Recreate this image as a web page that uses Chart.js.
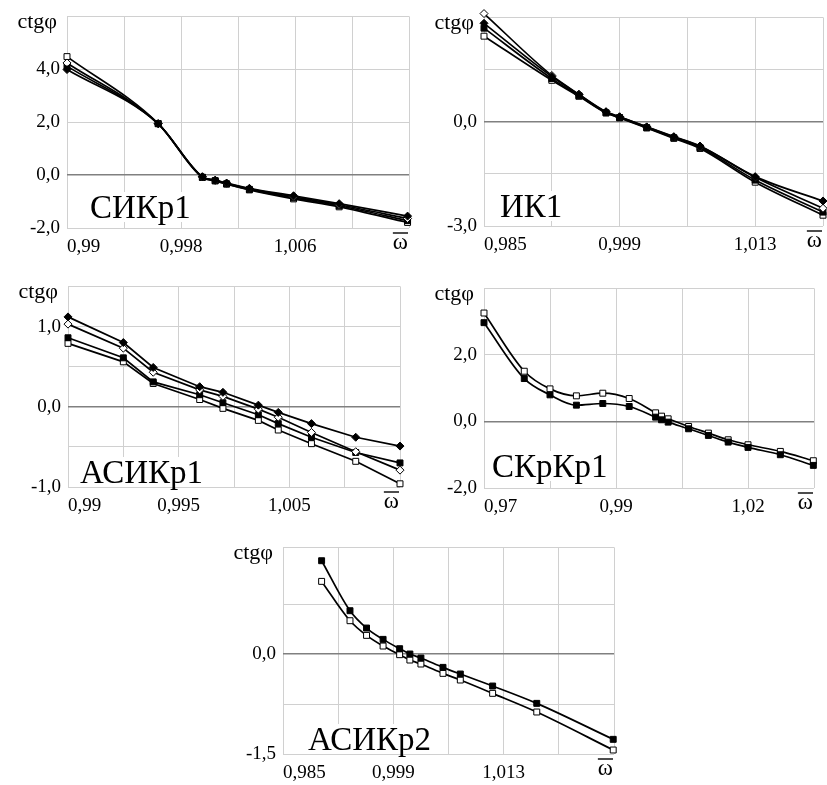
<!DOCTYPE html>
<html>
<head>
<meta charset="utf-8">
<script src="https://cdn.jsdelivr.net/npm/chart.js@4.4.0/dist/chart.umd.min.js"></script>
<style>
  html, body { margin: 0; padding: 0; background: #fff; width: 827px; height: 785px; overflow: hidden; }
  canvas { position: absolute; }
</style>
</head>
<body>
<canvas id="p1"></canvas>
<canvas id="p2"></canvas>
<canvas id="p3"></canvas>
<canvas id="p4"></canvas>
<canvas id="p5"></canvas>
<script>
/*
  Five ctg(phi) vs relative frequency panels
*/

// ---- Panel 1: СИКр1 ----
const p1X = [0.99, 0.9964, 0.9995, 1.0004, 1.0012, 1.0028, 1.0059, 1.0091, 1.0139];
const p1FilledDiamond = [3.99, 1.94, -0.06, -0.19, -0.30, -0.50, -0.78, -1.08, -1.55];
const p1OpenDiamond   = [4.24, 1.95, -0.07, -0.20, -0.31, -0.52, -0.82, -1.12, -1.64];
const p1FilledSquare  = [4.12, 1.94, -0.08, -0.21, -0.33, -0.54, -0.86, -1.16, -1.72];
const p1OpenSquare    = [4.48, 1.95, -0.09, -0.22, -0.34, -0.56, -0.90, -1.20, -1.79];
const p1XTicks = [0.99, 0.994, 0.998, 1.002, 1.006, 1.010, 1.014];
const p1XLabels = ['0,99', '', '0,998', '', '1,006', '', 'ω'];
const p1YTicks = [-2, 0, 2, 4, 6];
const p1YLabels = ['-2,0', '0,0', '2,0', '4,0', ''];

// ---- Panel 2: ИК1 ----
const p2X = [0.985, 0.992, 0.9948, 0.9976, 0.999, 1.0018, 1.0046, 1.0073, 1.013, 1.02];
const p2FilledDiamond = [2.83, 1.30, 0.78, 0.28, 0.14, -0.15, -0.43, -0.70, -1.58, -2.28];
const p2OpenDiamond   = [3.11, 1.33, 0.79, 0.29, 0.14, -0.15, -0.44, -0.71, -1.60, -2.49];
const p2FilledSquare  = [2.69, 1.24, 0.75, 0.26, 0.12, -0.17, -0.46, -0.74, -1.68, -2.60];
const p2OpenSquare    = [2.46, 1.19, 0.73, 0.25, 0.11, -0.18, -0.48, -0.77, -1.74, -2.69];
const p2XTicks = [0.985, 0.992, 0.999, 1.006, 1.013, 1.020];
const p2XLabels = ['0,985', '', '0,999', '', '1,013', 'ω'];
const p2YTicks = [-3, -1.5, 0, 1.5, 3];
const p2YLabels = ['-3,0', '', '0,0', '', ''];

// ---- Panel 3: АСИКр1 ----
const p3X = [0.985, 0.990, 0.9927, 0.9969, 0.999, 1.0022, 1.004, 1.007, 1.011, 1.015];
const p3FilledDiamond = [1.12, 0.80, 0.49, 0.25, 0.18, 0.02, -0.07, -0.21, -0.38, -0.49];
const p3OpenDiamond   = [1.03, 0.73, 0.43, 0.21, 0.13, -0.03, -0.13, -0.32, -0.56, -0.79];
const p3FilledSquare  = [0.86, 0.61, 0.31, 0.15, 0.05, -0.10, -0.21, -0.38, -0.57, -0.70];
const p3OpenSquare    = [0.79, 0.56, 0.29, 0.09, -0.02, -0.17, -0.29, -0.46, -0.68, -0.96];
const p3XTicks = [0.985, 0.990, 0.995, 1.000, 1.005, 1.010, 1.015];
const p3XLabels = ['0,99', '', '0,995', '', '1,005', '', 'ω'];
const p3YTicks = [-1, -0.5, 0, 0.5, 1, 1.5];
const p3YLabels = ['-1,0', '', '0,0', '', '1,0', ''];

// ---- Panel 4: СКрКр1 ----
const p4X = [0.97, 0.9761, 0.98, 0.984, 0.988, 0.992, 0.996, 0.9969, 0.9979, 1.001, 1.004, 1.007, 1.01, 1.0149, 1.0199];
const p4FilledSquare = [2.97, 1.29, 0.80, 0.49, 0.54, 0.45, 0.13, 0.05, -0.02, -0.22, -0.42, -0.62, -0.78, -1.00, -1.32];
const p4OpenSquare   = [3.26, 1.51, 0.98, 0.77, 0.85, 0.69, 0.26, 0.16, 0.08, -0.15, -0.35, -0.55, -0.70, -0.90, -1.18];
const p4XTicks = [0.97, 0.98, 0.99, 1.00, 1.01, 1.02];
const p4XLabels = ['0,97', '', '0,99', '', '1,02', 'ω'];
const p4YTicks = [-2, 0, 2, 4];
const p4YLabels = ['-2,0', '0,0', '2,0', ''];

// ---- Panel 5: АСИКр2 ----
const p5X = [0.9899, 0.9935, 0.9956, 0.9977, 0.9998, 1.0011, 1.0025, 1.0053, 1.0075, 1.0116, 1.0172, 1.0269];
const p5FilledSquare = [1.40, 0.65, 0.39, 0.22, 0.08, 0.00, -0.06, -0.20, -0.30, -0.48, -0.74, -1.28];
const p5OpenSquare   = [1.09, 0.50, 0.28, 0.12, -0.01, -0.09, -0.15, -0.29, -0.39, -0.59, -0.87, -1.44];
const p5XTicks = [0.985, 0.992, 0.999, 1.006, 1.013, 1.020, 1.027];
const p5XLabels = ['0,985', '', '0,999', '', '1,013', '', 'ω'];
const p5YTicks = [-1.5, -0.75, 0, 0.75, 1.6];
const p5YLabels = ['-1,5', '', '0,0', '', ''];

const SERIF = '"Liberation Serif", "Times New Roman", serif';
const AXIS_W = 67, PAD_TOP = 15, PAD_RIGHT = 20, AXIS_H = 40;

// marker look per series kind
const MARKERS = {
  filledDiamond: { pointStyle: 'rectRot', pointBackgroundColor: '#000', pointRadius: 4 },
  openDiamond:   { pointStyle: 'rectRot', pointBackgroundColor: '#fff', pointRadius: 4 },
  filledSquare:  { pointStyle: 'rect',    pointBackgroundColor: '#000', pointRadius: 4.2 },
  openSquare:    { pointStyle: 'rect',    pointBackgroundColor: '#fff', pointRadius: 4.2 }
};

// draws "ctgφ", the overlined omega at the axis end and the panel name
const panelText = {
  id: 'panelText',
  afterDraw(chart, args, opts) {
    const { ctx, chartArea: a } = chart;
    ctx.save();
    ctx.fillStyle = '#000';
    ctx.font = '22px ' + SERIF;
    ctx.textAlign = 'right';
    ctx.textBaseline = 'alphabetic';
    ctx.fillText('ctgφ', a.left - 10, a.top + 12);

    // omega with a bar over it, right-aligned to the last grid line
    ctx.font = '23px ' + SERIF;
    const ow = ctx.measureText(opts.omega).width;
    const ox = a.right - 1;
    ctx.fillText(opts.omega, ox, a.bottom + 21);
    ctx.strokeStyle = '#000';
    ctx.lineWidth = 1.4;
    ctx.beginPath();
    ctx.moveTo(ox - ow, a.bottom + 5);
    ctx.lineTo(ox, a.bottom + 5);
    ctx.stroke();

    ctx.font = '33px ' + SERIF;
    ctx.textAlign = 'left';
    const x = a.left + opts.dx, y = a.bottom - opts.dy;
    const w = ctx.measureText(opts.name).width;
    ctx.fillStyle = '#fff';
    ctx.fillRect(x - 3, y - 26, w + 6, 30);
    ctx.fillStyle = '#000';
    ctx.fillText(opts.name, x, y);
    ctx.restore();
  }
};

function makePanel(id, box, xs, series, xTicks, xLabels, yTicks, yLabels, name, textPos, smooth) {
  const canvas = document.getElementById(id);
  canvas.width = box.right - box.left + AXIS_W + PAD_RIGHT;
  canvas.height = box.bottom - box.top + PAD_TOP + AXIS_H;
  canvas.style.left = (box.left - AXIS_W) + 'px';
  canvas.style.top = (box.top - PAD_TOP) + 'px';
  const last = xLabels.length - 1;

  const datasets = series.map(s => Object.assign({
    data: xs.map((x, i) => ({ x: x, y: s.values[i] })),
    borderColor: '#000',
    borderWidth: 1.7,
    pointBorderColor: '#000',
    pointBorderWidth: 1,
    cubicInterpolationMode: smooth ? 'monotone' : 'default',
    tension: 0,
    clip: false
  }, MARKERS[s.kind]));

  return new Chart(canvas.getContext('2d'), {
    type: 'scatter',
    data: { datasets },
    options: {
      responsive: false,
      animation: false,
      showLine: true,
      layout: { padding: { top: PAD_TOP, right: PAD_RIGHT, left: 0, bottom: 0 } },
      plugins: {
        legend: { display: false },
        tooltip: { enabled: false },
        panelText: { name: name, dx: textPos[0], dy: textPos[1], omega: xLabels[last] }
      },
      scales: {
        x: {
          type: 'linear',
          min: xTicks[0],
          max: xTicks[xTicks.length - 1],
          afterBuildTicks: sc => { sc.ticks = xTicks.map(v => ({ value: v })); },
          afterFit: sc => { sc.height = AXIS_H; },
          grid: { color: '#d0d0d0', lineWidth: 1, drawTicks: false },
          border: { display: false },
          ticks: {
            callback: (v, i) => i === last ? '' : xLabels[i],
            align: 'inner',
            autoSkip: false,
            maxRotation: 0,
            padding: 8,
            color: '#000',
            font: { family: SERIF, size: 19 }
          }
        },
        y: {
          type: 'linear',
          min: yTicks[0],
          max: yTicks[yTicks.length - 1],
          afterBuildTicks: sc => { sc.ticks = yTicks.map(v => ({ value: v })); },
          afterFit: sc => { sc.width = AXIS_W; },
          grid: {
            color: c => (c.tick && c.tick.value === 0) ? '#808080' : '#d0d0d0',
            lineWidth: c => (c.tick && c.tick.value === 0) ? 1.5 : 1,
            drawTicks: false
          },
          border: { display: false },
          ticks: {
            callback: (v, i) => yLabels[i],
            autoSkip: false,
            padding: 7,
            color: '#000',
            font: { family: SERIF, size: 19 }
          }
        }
      }
    },
    plugins: [panelText]
  });
}

makePanel('p1', { left: 67, top: 13, right: 409, bottom: 228 }, p1X, [
  { kind: 'filledDiamond', values: p1FilledDiamond },
  { kind: 'openDiamond', values: p1OpenDiamond },
  { kind: 'filledSquare', values: p1FilledSquare },
  { kind: 'openSquare', values: p1OpenSquare }
], p1XTicks, p1XLabels, p1YTicks, p1YLabels, 'СИКр1', [23, 10], true);

makePanel('p2', { left: 484, top: 14, right: 823, bottom: 226 }, p2X, [
  { kind: 'filledDiamond', values: p2FilledDiamond },
  { kind: 'openDiamond', values: p2OpenDiamond },
  { kind: 'filledSquare', values: p2FilledSquare },
  { kind: 'openSquare', values: p2OpenSquare }
], p2XTicks, p2XLabels, p2YTicks, p2YLabels, 'ИК1', [16, 9], true);

makePanel('p3', { left: 68, top: 283, right: 400, bottom: 487 }, p3X, [
  { kind: 'filledDiamond', values: p3FilledDiamond },
  { kind: 'openDiamond', values: p3OpenDiamond },
  { kind: 'filledSquare', values: p3FilledSquare },
  { kind: 'openSquare', values: p3OpenSquare }
], p3XTicks, p3XLabels, p3YTicks, p3YLabels, 'АСИКр1', [12, 4], false);

makePanel('p4', { left: 484, top: 285, right: 814, bottom: 488 }, p4X, [
  { kind: 'filledSquare', values: p4FilledSquare },
  { kind: 'openSquare', values: p4OpenSquare }
], p4XTicks, p4XLabels, p4YTicks, p4YLabels, 'СКрКр1', [8, 11], true);

makePanel('p5', { left: 283, top: 544, right: 614, bottom: 754 }, p5X, [
  { kind: 'filledSquare', values: p5FilledSquare },
  { kind: 'openSquare', values: p5OpenSquare }
], p5XTicks, p5XLabels, p5YTicks, p5YLabels, 'АСИКр2', [25, 4], true);
</script>
</body>
</html>
